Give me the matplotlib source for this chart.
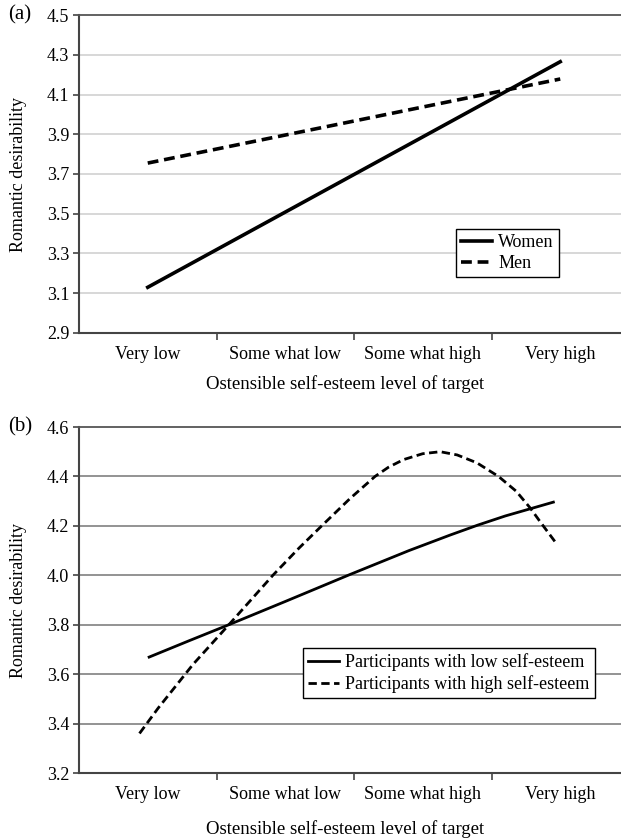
import matplotlib.pyplot as plt

plt.rcParams['font.family'] = ['Liberation Serif', 'DejaVu Serif']
plt.rcParams['font.size'] = 13

categories = ['Very low', 'Some what low', 'Some what high', 'Very high']

# panel (a): straight lines, endpoints
a_x = [0, 3]
women = [3.13, 4.265]
men = [3.755, 4.178]

# panel (b): curves
low_x = [0.01, 0.3, 0.59, 1.0, 1.47, 1.9, 2.2, 2.4, 2.6, 2.8, 2.95]
low_y = [3.669, 3.735, 3.80, 3.894, 4.003, 4.10, 4.163, 4.203, 4.24, 4.272, 4.296]
high_x = [-0.06, 0.075, 0.33, 0.59, 0.91, 1.1, 1.265, 1.47, 1.653, 1.75, 1.86, 2.0,
          2.127, 2.25, 2.394, 2.551, 2.68, 2.782, 2.86, 2.97]
high_y = [3.36, 3.462, 3.64, 3.80, 4.00, 4.11, 4.20, 4.31, 4.40, 4.437, 4.468, 4.492,
          4.50, 4.487, 4.455, 4.40, 4.34, 4.272, 4.212, 4.13]

fig = plt.figure(figsize=(6.21, 8.4), dpi=100)
W, H = 621, 840


def make_axes(top, bottom, ymin, ymax, step, gridcol):
    ax = fig.add_axes([79 / W, 1 - bottom / H, 550 / W, (bottom - top) / H])
    ax.set_xlim(-0.5, 3.5)
    ax.set_ylim(ymin, ymax)
    n = int(round((ymax - ymin) / step))
    yt = [ymin + i * step for i in range(n + 1)]
    ax.set_yticks(yt)
    ax.set_yticklabels(['%.1f' % v for v in yt])
    ax.set_xticks([0.5, 1.5, 2.5, 3.5])
    ax.set_xticklabels([])
    ax.set_xticks([0, 1, 2, 3], minor=True)
    ax.set_xticklabels(categories, minor=True)
    ax.tick_params(axis='x', which='minor', length=0, pad=9.5)
    ax.tick_params(axis='x', which='major', length=5, width=1.2, color='#444444')
    ax.tick_params(axis='y', length=4, width=1.2, color='#444444', pad=3)
    for v in yt[1:-1]:
        ax.axhline(v, color=gridcol, lw=1.3, zorder=0)
    for s in ['left', 'bottom']:
        ax.spines[s].set_color('#444444')
        ax.spines[s].set_linewidth(1.5)
    ax.spines['top'].set_color('#555555')
    ax.spines['top'].set_linewidth(1.3)
    ax.spines['right'].set_visible(False)
    ax.set_ylabel('Romantic desirability', fontsize=13)
    ax.yaxis.set_label_coords(-0.095, 0.5)
    ax.set_xlabel('Ostensible self-esteem level of target', fontsize=13.5)
    return ax


ax1 = make_axes(15, 333, 2.9, 4.5, 0.2, '#d4d4d4')
ax1.plot(a_x, women, color='black', lw=2.6, label='Women')
ax1.plot(a_x, men, color='black', lw=2.6, ls=(0, (3, 1.6)), label='Men')
ax1.xaxis.set_label_coords(0.484, -0.133)
leg1 = ax1.legend(loc='upper left', bbox_to_anchor=(0.685, 0.327), borderaxespad=0,
                  fancybox=False, framealpha=1, edgecolor='black', handlelength=1.7,
                  handletextpad=0.35, borderpad=0.3, labelspacing=0.2, fontsize=13)
leg1.get_frame().set_linewidth(1.0)
fig.text(8 / W, 1 - 15 / H, '(a)', fontsize=15, va='center', ha='left')

ax2 = make_axes(427, 773, 3.2, 4.6, 0.2, '#8a8a8a')
ax2.plot(low_x, low_y, color='black', lw=2.0, label='Participants with low self-esteem')
ax2.plot(high_x, high_y, color='black', lw=2.0, ls=(0, (3, 1.6)),
         label='Participants with high self-esteem')
ax2.xaxis.set_label_coords(0.484, -0.135)
leg2 = ax2.legend(loc='upper left', bbox_to_anchor=(0.407, 0.361), borderaxespad=0,
                  fancybox=False, framealpha=1, edgecolor='black', handlelength=1.7,
                  handletextpad=0.35, borderpad=0.3, labelspacing=0.2, fontsize=13)
leg2.get_frame().set_linewidth(1.0)
fig.text(8 / W, 1 - 427 / H, '(b)', fontsize=15, va='center', ha='left')

fig.savefig('out.png', dpi=100)
